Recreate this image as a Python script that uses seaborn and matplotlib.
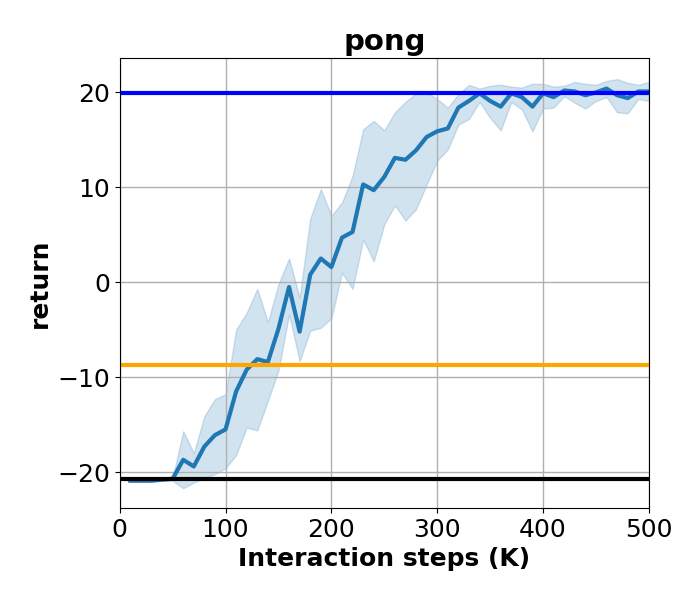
import numpy as np
import pandas as pd
import matplotlib
matplotlib.use("Agg")
import matplotlib.pyplot as plt
import seaborn as sns

# interaction steps (K)
steps = list(range(10, 501, 10))

# mean return
mean_ret = [-20.9, -20.9, -20.9, -20.8, -20.7, -18.7, -19.4, -17.3, -16.1, -15.5,
            -11.5, -9.2, -8.1, -8.4, -4.9, -0.5, -5.2, 0.8, 2.5, 1.6,
            4.7, 5.3, 10.3, 9.7, 11.1, 13.1, 12.9, 13.9, 15.3, 15.9,
            16.2, 18.4, 19.1, 19.9, 19.1, 18.5, 19.9, 19.5, 18.5, 19.9,
            19.5, 20.2, 20.1, 19.7, 20.0, 20.4, 19.7, 19.4, 20.1, 20.1]

# band upper / lower
upper_ret = [-20.8, -20.8, -20.8, -20.7, -20.6, -15.7, -18.0, -14.1, -12.3, -11.8,
             -5.0, -3.2, -0.7, -4.2, -0.2, 2.5, -1.6, 6.7, 9.8, 7.0,
             8.4, 11.2, 16.1, 17.0, 16.0, 17.9, 19.0, 19.9, 20.0, 19.3,
             18.4, 19.8, 20.8, 20.4, 20.7, 20.8, 20.6, 20.5, 20.9, 20.9,
             20.6, 20.7, 21.1, 20.9, 20.8, 21.2, 21.4, 21.0, 20.8, 21.1]
lower_ret = [-21.0, -21.0, -21.0, -20.9, -20.9, -21.7, -21.1, -20.6, -20.2, -19.6,
             -18.2, -15.3, -15.6, -12.5, -9.3, -3.4, -8.3, -5.1, -4.8, -3.8,
             1.0, -0.7, 4.5, 2.2, 6.1, 8.1, 6.5, 7.7, 10.3, 12.8,
             14.0, 16.6, 17.2, 19.0, 17.3, 16.0, 19.0, 18.2, 15.9, 18.3,
             18.4, 19.6, 18.9, 18.3, 19.1, 19.5, 17.9, 17.8, 19.3, 19.1]

# reference levels
ref_levels = [19.9, -8.7, -20.7]
ref_colors = ["blue", "orange", "black"]

df = pd.DataFrame({"step": steps, "ret": mean_ret, "lo": lower_ret, "hi": upper_ret})

fig = plt.figure(figsize=(7, 6), dpi=100)
ax = fig.add_axes([0.171, 0.153, 0.756, 0.75])

ax.fill_between(df["step"], df["lo"], df["hi"], color="#1f77b4", alpha=0.2)
sns.lineplot(data=df, x="step", y="ret", ax=ax, color="#1f77b4", linewidth=3)
for lvl, c in zip(ref_levels, ref_colors):
    ax.axhline(lvl, color=c, linewidth=3)

ax.set_xlim(0, 500)
ax.set_ylim(-23.8, 23.6)
ax.set_yticks([-20, -10, 0, 10, 20])
ax.grid(True, color="#b0b0b0", linewidth=1)
ax.tick_params(labelsize=18)
ax.set_title("pong", fontsize=21, fontweight="bold")
ax.set_xlabel("Interaction steps (K)", fontsize=18, fontweight="bold")
ax.set_ylabel("return", fontsize=18, fontweight="bold")

fig.savefig("out.png", dpi=100)
